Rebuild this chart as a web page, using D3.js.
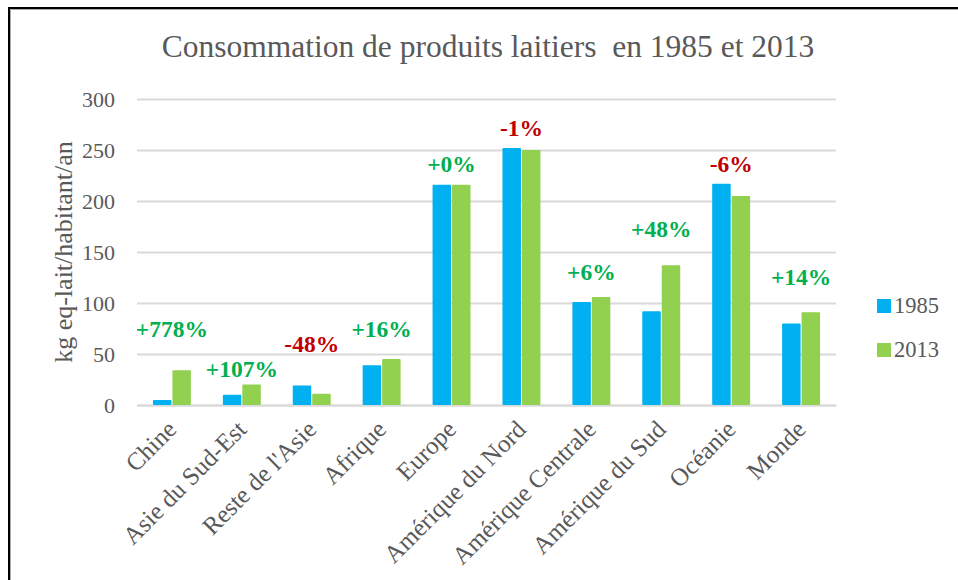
<!DOCTYPE html>
<html>
<head>
<meta charset="utf-8">
<script src="https://cdn.jsdelivr.net/npm/d3@7"></script>
<style>
  body { margin: 0; background: #fff; }
  svg text { font-family: "Liberation Serif", Tinos, "Times New Roman", serif; }
</style>
</head>
<body>
<div class="chart"></div>
<script>
// data
const regions = ["Chine", "Asie du Sud-Est", "Reste de l'Asie", "Afrique", "Europe",
  "Amérique du Nord", "Amérique Centrale", "Amérique du Sud", "Océanie", "Monde"];
const years = ["1985", "2013"];
const values1985 = [5, 10, 19, 39, 216, 252, 101, 92, 217, 80];
const values2013 = [34, 20, 11, 45, 216, 250, 106, 137, 205, 91];
const changes = ["+778%", "+107%", "-48%", "+16%", "+0%", "-1%", "+6%", "+48%", "-6%", "+14%"];
// level (kg) at which each change label sits
const changeLevels = [67, 27, 52, 67, 228, 264, 123, 165, 228, 118];
const yTicks = [0, 50, 100, 150, 200, 250, 300];

function drawChart() {
    const w = 958;
    const h = 580;
    const margin = { top: 99, right: 122, bottom: 175, left: 137 };
    const chartWidth = w - margin.left - margin.right;
    const chartHeight = h - margin.top - margin.bottom;

    const color = d3.scaleOrdinal().domain(years).range(["#00B0F0", "#92D050"]);

    const svg0 = d3.select('.chart')
        .append('svg')
        .attr('width', w)
        .attr('height', h);

    // frame (cut off on the right and bottom)
    svg0.append('path')
        .attr('d', 'M9,' + h + 'V8H' + w)
        .attr('fill', 'none')
        .attr('stroke', '#000')
        .attr('stroke-width', 2);
    svg0.append('path')
        .attr('d', 'M10.5,' + h + 'V9.5H' + w)
        .attr('fill', 'none')
        .attr('stroke', '#aaa')
        .attr('stroke-width', 1);

    // title
    svg0.append('text')
        .attr('x', 488)
        .attr('y', 57)
        .attr('text-anchor', 'middle')
        .attr('fill', '#595959')
        .style('font-size', '31.5px')
        .style('white-space', 'pre')
        .text('Consommation de produits laitiers  en 1985 et 2013');

    const svg = svg0.append('g')
        .attr('transform', 'translate(' + margin.left + ', ' + margin.top + ')');

    const xScale = d3.scaleBand()
        .domain(regions)
        .range([0, chartWidth])
        .paddingInner(0.457)
        .paddingOuter(0.228);

    const xSub = d3.scaleBand()
        .domain(years)
        .range([0, xScale.bandwidth()])
        .paddingInner(0.05);

    const yScale = d3.scaleLinear()
        .domain([0, 300])
        .range([chartHeight, 0]);

    // gridlines + y labels
    const yAxis = d3.axisLeft(yScale)
        .tickValues(yTicks)
        .tickSize(-chartWidth)
        .tickPadding(22);

    svg.append('g')
        .call(yAxis)
        .attr('font-family', null)
        .call(g => g.select('.domain').remove())
        .call(g => g.selectAll('line').attr('stroke', '#D9D9D9').attr('stroke-width', 2))
        .call(g => g.selectAll('text')
            .attr('fill', '#595959')
            .style('font-size', '22px'));

    // x axis
    const xAxis = d3.axisBottom(xScale).tickSize(0).tickPadding(0);
    svg.append('g')
        .attr('transform', `translate(0, ${chartHeight})`)
        .call(xAxis)
        .attr('font-family', null)
        .call(g => g.select('.domain').attr('stroke', '#D9D9D9').attr('stroke-width', 2))
        .call(g => g.selectAll('text')
            .attr('fill', '#595959')
            .attr('text-anchor', 'end')
            .attr('dy', null)
            .attr('transform', 'translate(6, 26) rotate(-45)')
            .style('font-size', '25px'));

    // bars
    const rows = regions.map((r, i) => ({ region: r, vals: [values1985[i], values2013[i]] }));
    const groups = svg.selectAll('.grp')
        .data(rows)
        .enter().append('g')
        .attr('class', 'grp')
        .attr('transform', d => 'translate(' + xScale(d.region) + ',0)');

    groups.selectAll('rect')
        .data(d => d.vals.map((v, j) => ({ year: years[j], v: v })))
        .enter().append('rect')
        .attr('x', d => xSub(d.year))
        .attr('y', d => yScale(d.v))
        .attr('width', xSub.bandwidth())
        .attr('height', d => chartHeight - yScale(d.v))
        .attr('rx', 1)
        .style('fill', d => color(d.year));

    // change labels
    svg.selectAll('.chg')
        .data(regions)
        .enter().append('text')
        .attr('class', 'chg')
        .attr('x', d => xScale(d) + xScale.bandwidth() / 2)
        .attr('y', (d, i) => yScale(changeLevels[i]))
        .attr('text-anchor', 'middle')
        .style('font-size', '23.5px')
        .style('font-weight', 'bold')
        .style('fill', (d, i) => changes[i].startsWith('-') ? '#C00000' : '#00B050')
        .text((d, i) => changes[i]);

    // y axis title
    svg.append('text')
        .attr('transform', 'rotate(-90)')
        .attr('x', -chartHeight / 2)
        .attr('y', -65)
        .attr('text-anchor', 'middle')
        .attr('fill', '#595959')
        .style('font-size', '26px')
        .text('kg eq-lait/habitant/an');

    // legend
    const legend = svg.selectAll('.legend-item')
        .data(years)
        .enter().append('g')
        .attr('class', 'legend-item')
        .attr('transform', (d, i) => 'translate(' + (chartWidth + 41) + ',' + (200 + i * 44) + ')');

    legend.append('rect')
        .attr('width', 14)
        .attr('height', 14)
        .style('fill', color);

    legend.append('text')
        .attr('x', 17)
        .attr('y', 14)
        .attr('fill', '#595959')
        .style('font-size', '22.5px')
        .text(d => d);
}

drawChart();
</script>
</body>
</html>
